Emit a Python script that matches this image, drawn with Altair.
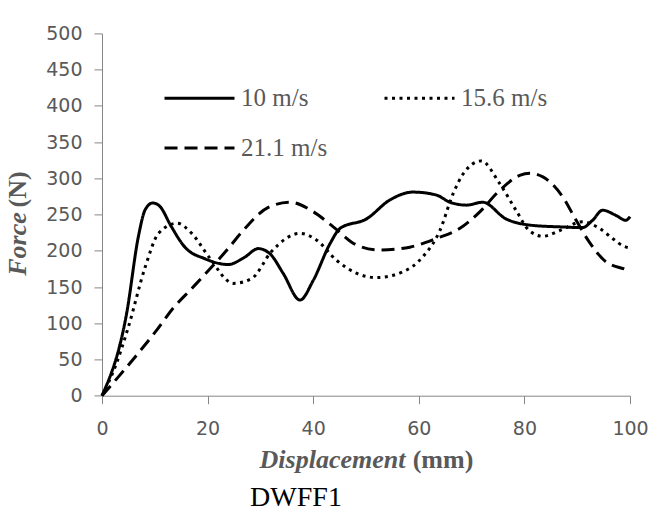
import altair as alt
import pandas as pd

# ---- data ----
series_names = ["10 m/s", "15.6 m/s", "21.1 m/s"]
legend_order = ["10 m/s", "21.1 m/s", "15.6 m/s"]

x_10 = [0, 4.7, 6.9, 8.2, 9.6, 11, 13, 15.7, 19.5, 23.9, 27, 29.6, 31.8, 34.3, 37.5, 40,
        43.2, 45.1, 50.1, 54.5, 58.9, 63.3, 65.9, 69, 72.1, 76.5, 81.6, 86.7, 91, 92.9,
        94.8, 97.3, 99.2, 100]
f_10 = [0, 115, 220, 257, 266, 261, 235, 205, 189, 181, 191, 203, 196, 169, 132, 159,
        210, 231, 244, 270, 281, 277, 267, 263, 267, 244, 235, 233, 232, 242,
        256, 249, 242, 247]

x_156 = [0, 2.5, 5, 8.2, 10.7, 14.2, 17, 20.2, 24.9, 28.4, 32.1, 37.5, 40.6, 44.4, 48.2,
         52, 57, 60.8, 64, 66.5, 68.4, 71.8, 75.3, 78.4, 80.9, 83.5, 86.7, 91, 94.2,
         96.7, 98.9, 100]
f_156 = [0, 40, 95, 178, 224, 238, 224, 192, 155, 162, 199, 224, 215, 187, 169,
         163, 171, 192, 228, 279, 306, 324, 293, 256, 228, 220, 228, 240, 231,
         217, 206, 204]

x_211 = [0, 3.1, 6.9, 10.1, 13.5, 17, 20.2, 23.9, 26.5, 31.5, 35.6, 40, 43.8, 48.2, 52.6,
         58.3, 63.3, 67.8, 71.6, 75, 79.1, 81, 83.5, 87.3, 89.8, 92.3, 95.4, 99.5, 100]
f_211 = [0, 26, 59, 88, 121, 148, 173, 203, 226, 260, 267, 254, 233, 208, 201,
         205, 217, 231, 254, 281, 304, 307, 302, 274, 242, 212, 185, 173, 171]

x_ticks = [0, 20, 40, 60, 80, 100]
y_ticks = [0, 50, 100, 150, 200, 250, 300, 350, 400, 450, 500]

y_title_parts = ["Force", "(N)"]
x_title_parts = ["Displacement", "(mm)"]
caption = "DWFF1"

# ---- build table ----
rows = []
for name, xs, fs in zip(series_names, [x_10, x_156, x_211], [f_10, f_156, f_211]):
    for i, (xv, fv) in enumerate(zip(xs, fs)):
        rows.append({"series": name, "disp": xv, "force": fv, "order": i})
df = pd.DataFrame(rows)

dash_of = {"10 m/s": [1, 0], "15.6 m/s": [3, 4.5], "21.1 m/s": [13, 7]}

W, H = 528, 362.3
GREY = "#595959"

lines = alt.Chart(df).mark_line(interpolate="monotone", strokeWidth=3, color="black").encode(
    x=alt.X("disp:Q", scale=alt.Scale(domain=[0, 100], nice=False),
            axis=alt.Axis(values=x_ticks, title=None, grid=False, domainColor="#868686",
                          tickColor="#868686", tickSize=8, labelFont="DejaVu Sans",
                          labelFontSize=19, labelColor=GREY, labelPadding=16,
                          labelFlush=False)),
    y=alt.Y("force:Q", scale=alt.Scale(domain=[0, 500], nice=False),
            axis=alt.Axis(values=y_ticks, title=None, grid=False, domainColor="#868686",
                          tickColor="#868686", tickSize=8, labelFont="DejaVu Sans",
                          labelFontSize=19, labelColor=GREY, labelPadding=12)),
    strokeDash=alt.StrokeDash(
        "series:N",
        scale=alt.Scale(domain=legend_order, range=[dash_of[s] for s in legend_order]),
        legend=alt.Legend(
            title=None, orient="none", legendX=61, legendY=28, columns=2,
            symbolType="stroke", symbolSize=4900, symbolStrokeWidth=3,
            symbolStrokeColor="black", labelFont="Liberation Serif", labelFontSize=25,
            labelColor=GREY, labelOffset=5, columnPadding=50, rowPadding=-6,
            padding=0, labelLimit=0,
        ),
    ),
    order="order:Q",
)

def txt(s, x, y, **kw):
    return alt.Chart(pd.DataFrame({"t": [s]})).mark_text(**kw).encode(
        text="t:N", x=alt.value(x), y=alt.value(y))

ytitle1 = txt(y_title_parts[0], -84, 210.6, font="Liberation Serif", fontSize=26,
              fontWeight="bold", fontStyle="italic", color=GREY, angle=270,
              align="center", baseline="middle")
ytitle2 = txt(y_title_parts[1], -84, 156, font="Liberation Serif", fontSize=26,
              fontWeight="bold", color=GREY, angle=270, align="center", baseline="middle")
xtitle1 = txt(x_title_parts[0], 230.5, 426.6, font="Liberation Serif", fontSize=26,
              fontWeight="bold", fontStyle="italic", color=GREY, align="center",
              baseline="middle")
xtitle2 = txt(x_title_parts[1], 341, 426.6, font="Liberation Serif", fontSize=26,
              fontWeight="bold", color=GREY, align="center", baseline="middle")
cap = txt(caption, 194, 472.6, font="Liberation Serif", fontSize=28, color="black",
          align="center", baseline="alphabetic")

chart = alt.layer(lines, ytitle1, ytitle2, xtitle1, xtitle2, cap).properties(
    width=W, height=H,
    autosize=alt.AutoSizeParams(type="none"),
    padding={"left": 102, "top": 33.4, "right": 20, "bottom": 117.3},
    background="white",
).configure_view(stroke=None)

chart.save("out.html", embed_options={"renderer": "svg", "actions": False})
